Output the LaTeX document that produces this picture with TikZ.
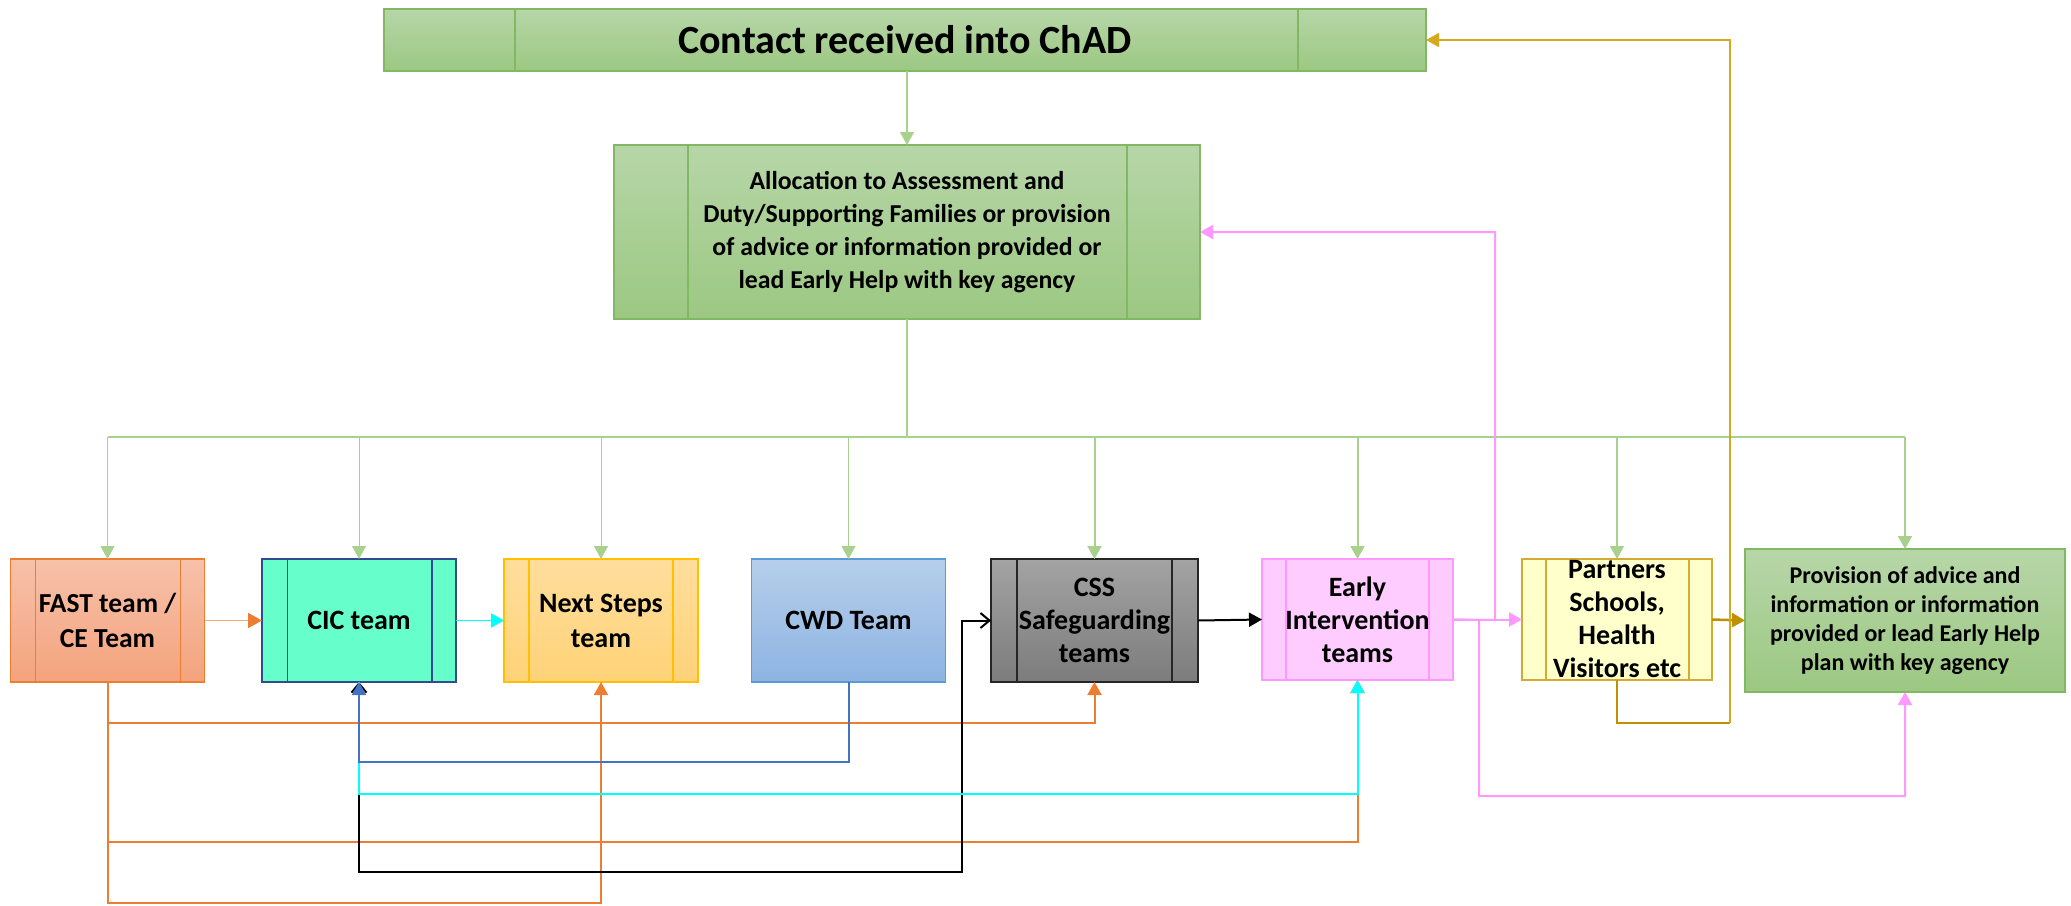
\documentclass[tikz,border=0pt]{standalone}
\usepackage{fontspec}
\setmainfont{Carlito}
\usetikzlibrary{arrows.meta,calc}

% box colours
\definecolor{gTop}{RGB}{183,214,168}
\definecolor{gBot}{RGB}{156,200,130}
\definecolor{gEdge}{RGB}{130,183,100}
\definecolor{fTop}{RGB}{247,193,170}
\definecolor{fBot}{RGB}{244,163,125}
\definecolor{fEdge}{RGB}{237,125,49}
\definecolor{cicFill}{RGB}{102,255,204}
\definecolor{cicEdge}{RGB}{50,75,140}
\definecolor{nTop}{RGB}{255,222,156}
\definecolor{nBot}{RGB}{255,210,120}
\definecolor{nEdge}{RGB}{255,192,0}
\definecolor{wTop}{RGB}{182,206,235}
\definecolor{wBot}{RGB}{141,180,226}
\definecolor{wEdge}{RGB}{91,155,213}
\definecolor{sTop}{RGB}{163,163,163}
\definecolor{sBot}{RGB}{124,124,124}
\definecolor{sEdge}{RGB}{38,38,38}
\definecolor{eiFill}{RGB}{255,204,255}
\definecolor{eiEdge}{RGB}{255,153,255}
\definecolor{pFill}{RGB}{255,255,204}
\definecolor{pEdge}{RGB}{212,170,50}
% connector colours
\definecolor{cGreen}{RGB}{169,209,142}
\definecolor{cOrange}{RGB}{237,125,49}
\definecolor{cSalmon}{RGB}{244,170,120}
\definecolor{cBlue}{RGB}{68,114,196}
\definecolor{cCyan}{RGB}{0,255,255}
\definecolor{cPink}{RGB}{255,153,255}
\definecolor{cGold}{RGB}{214,168,32}
\definecolor{cDarkGold}{RGB}{191,144,0}

% vertical side bars inside a process box
\newcommand{\sidebars}[4]{%
  \draw[#4,line width=1.2pt]
    ([xshift=#2pt]#1.north west) -- ([xshift=#2pt]#1.south west)
    ([xshift=-#3pt]#1.north east) -- ([xshift=-#3pt]#1.south east);}

\tikzset{
  blk/.style={rectangle, outer sep=0pt, inner sep=0pt, align=center,
              line width=1.5pt, font=\bfseries\fontsize{28}{33}\selectfont},
  teambox/.style={blk, minimum width=194pt, minimum height=123pt},
  tip/.style={-{Triangle[length=13pt,width=14pt]}},
  gline/.style={draw=cGreen, tip},
  conn/.style={line width=2pt, tip},
}

\begin{document}
\begin{tikzpicture}[x=1pt,y=-1pt]
\useasboundingbox (0,0) rectangle (2071,905);

% ---- top boxes ----
\node[blk, minimum width=1042pt, minimum height=62pt, top color=gTop, bottom color=gBot,
      draw=gEdge, font=\bfseries\fontsize{40}{44}\selectfont] (contact) at (905,40)
  {Contact received into ChAD};
\sidebars{contact}{131}{128}{gEdge}

\node[blk, minimum width=586pt, minimum height=174pt, top color=gTop, bottom color=gBot,
      draw=gEdge, font=\bfseries\fontsize{25.8}{33}\selectfont] (alloc) at (907,232)
  {Allocation to Assessment and\\Duty/Supporting Families or provision\\of advice or information provided or\\lead Early Help with key agency};
\sidebars{alloc}{74}{73}{gEdge}

% ---- team row ----
\node[teambox, top color=fTop, bottom color=fBot, draw=fEdge, font=\bfseries\fontsize{27.5}{35}\selectfont] (fast) at (107.5,620.5)
  {FAST team /\\CE Team};
\sidebars{fast}{25}{24}{fEdge}

\node[teambox, fill=cicFill, draw=cicEdge] (cic) at (359,620.5) {CIC team};
\sidebars{cic}{25.5}{24}{cicEdge}

\node[teambox, top color=nTop, bottom color=nBot, draw=nEdge, font=\bfseries\fontsize{28}{35}\selectfont] (next) at (601,620.5)
  {Next Steps\\team};
\sidebars{next}{25}{25}{nEdge}

\node[teambox, top color=wTop, bottom color=wBot, draw=wEdge, line width=1.2pt] (cwd) at (848.5,620.5)
  {CWD Team};

\node[teambox, minimum width=207pt, top color=sTop, bottom color=sBot, draw=sEdge] (css) at (1094.5,620.5)
  {CSS\\Safeguarding\\teams};
\sidebars{css}{26}{26}{sEdge}

\node[teambox, minimum width=191pt, minimum height=121pt, fill=eiFill, draw=eiEdge] (ei) at (1357.5,619.5)
  {Early\\Intervention\\teams};
\sidebars{ei}{24}{24}{eiEdge}

\node[teambox, minimum width=190pt, minimum height=121pt, fill=pFill, draw=pEdge] (partners) at (1617,619.5)
  {Partners\\Schools,\\Health\\Visitors etc};
\sidebars{partners}{24}{23}{pEdge}

\node[blk, minimum width=320pt, minimum height=143pt, top color=gTop, bottom color=gBot,
      draw=gEdge, font=\bfseries\fontsize{24}{29}\selectfont] (prov) at (1905,620.5)
  {Provision of advice and\\information or information\\provided or lead Early Help\\plan with key agency};

% ---- routing points ----
\coordinate (bus) at (907,437);
\coordinate (rO1) at (0,723);
\coordinate (rB)  at (0,762);
\coordinate (rC)  at (0,794);
\coordinate (rO2) at (0,842);
\coordinate (rK)  at (0,872);
\coordinate (rO3) at (0,903);
\coordinate (kx)  at (962,0);
\coordinate (pUp) at (1495,620);
\coordinate (pDn) at (1479,620);
\coordinate (rP)  at (0,796);
\coordinate (gx)  at (1730,0);

% ---- green distribution ----
\draw[gline, line width=1.3pt] (contact.south -| alloc.north) -- (alloc.north);
\draw[draw=cGreen, line width=2.2pt] (alloc.south) -- (bus);
\draw[draw=cGreen, line width=2.4pt] (fast.north |- bus) -- (prov.north |- bus);
\foreach \t in {fast,cic,next,cwd}
  \draw[gline, line width=1pt] (\t.north |- bus) -- (\t.north);
\foreach \t in {css,ei,partners,prov}
  \draw[gline, line width=2pt] (\t.north |- bus) -- (\t.north);

% ---- straight links in the team row ----
\draw[draw=cSalmon, line width=1.8pt, -{Triangle[length=14pt,width=15pt,color=cOrange]}]
  (fast.east) -- (cic.west);
\draw[draw=cCyan, line width=1.8pt, tip] (cic.east) -- (next.west);
\draw[draw=black, line width=2pt, tip] (css.east) -- (ei.west);
\draw[draw=cPink, line width=2pt, tip] (ei.east) -- (partners.west);
\draw[draw=cDarkGold, line width=2.5pt, tip] (partners.east) -- (prov.west);

% ---- routed links below the row ----
\draw[draw=cOrange, conn] (fast.south) |- (css.south |- rO1) -- (css.south);
\draw[draw=cOrange, conn] (fast.south) |- (ei.south |- rO2) -- (ei.south);
\draw[draw=cOrange, conn] (fast.south) |- (next.south |- rO3) -- (next.south);
\draw[draw=black, line width=2pt, {Straight Barb[length=9pt,width=15pt]}-{Straight Barb[length=9pt,width=15pt]}]
  (cic.south) |- (kx |- rK) |- (css.west);
\draw[draw=cCyan, conn] (cic.south) |- (ei.south |- rC) -- (ei.south);
\draw[draw=cBlue, conn] (cwd.south) |- (cic.south |- rB) -- (cic.south);

% ---- pink links from Early Intervention ----
\draw[draw=cPink, conn] (ei.east) -- (pUp) |- (alloc.east);
\draw[draw=cPink, conn] (ei.east) -- (pDn) |- (prov.south |- rP) -- (prov.south);

% ---- gold loop back to the contact box ----
\draw[draw=cDarkGold, line width=2.5pt] (partners.south) |- (gx |- rO1);
\draw[draw=cGold, line width=1.6pt, tip] (gx |- rO1) |- (contact.east);

\end{tikzpicture}
\end{document}
